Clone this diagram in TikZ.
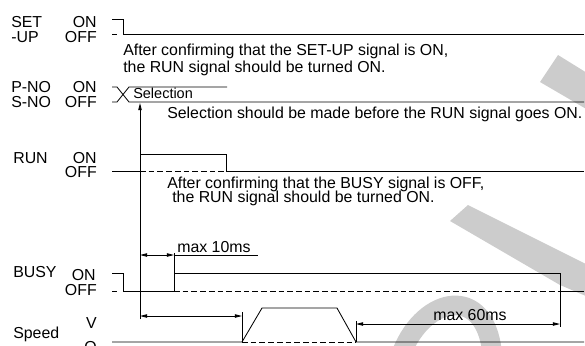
\documentclass[tikz,border=0pt]{standalone}
\usepackage{fontspec}
\setmainfont{Liberation Sans}
\usetikzlibrary{arrows.meta}
\begin{document}
\begin{tikzpicture}[x=0.025cm, y=-0.025cm, font=\fontsize{11.3}{13.6}\selectfont]
	\tikzset{>={Triangle[length=5pt,width=2.4pt]}}
	\tikzset{sig/.style={line width=0.6pt}, off/.style={sig, dash pattern=on 4pt off 2.2pt},
		lbl/.style={inner sep=0pt, anchor=base west}, lvl/.style={inner sep=0pt, anchor=base east},
		wmark/.style={fill=black!20, draw=none}}
	\useasboundingbox (0,0) rectangle (585,345);
	% watermark
	\begin{scope}
		\clip (0,0) rectangle (585,345);
		\fill[wmark] (558,55) -- (540,82) -- (600,117) -- (600,81) -- cycle;
		\fill[wmark] (468,205) -- (450,221) -- (560,285) -- (600,302) -- (600,271) -- cycle;
		\draw[black!20, line width=14pt] (402,352) .. controls (425,295) and (485,285) .. (492,352);
	\end{scope}
	% signal names and levels
	\node[lbl] (set) at (11,27) {SET};
	\node[lbl] (setup) at (11,42) {-UP};
	\node[lvl] (seton) at (97,27) {ON};
	\node[lvl] (setoff) at (97,42) {OFF};
	\node[lbl] (pno) at (11,92) {P-NO};
	\node[lbl] (sno) at (11,107) {S-NO};
	\node[lvl] (pnoon) at (97,92) {ON};
	\node[lvl] (pnooff) at (97,107) {OFF};
	\node[lbl] (run) at (13,163) {RUN};
	\node[lvl] (runon) at (97,163) {ON};
	\node[lvl] (runoff) at (97,177) {OFF};
	\node[lbl] (busy) at (13,277.5) {BUSY};
	\node[lvl] (busyon) at (96,280) {ON};
	\node[lvl] (busyoff) at (97,295) {OFF};
	\node[lbl] (speed) at (13,338) {Speed};
	\node[lvl] (spv) at (97,328) {V};
	\node[lvl] (spo) at (97,352) {O};
	% notes
	\node[lbl] (setnote) at (123,55) {After confirming that the SET-UP signal is ON,};
	\node[lbl] (setnoteb) at (123,72) {the RUN signal should be turned ON.};
	\node[lbl, font=\fontsize{10.3}{12}\selectfont] (sel) at (133,98) {Selection};
	\node[lbl] (selnote) at (167,118) {Selection should be made before the RUN signal goes ON.};
	\node[lbl] (busynote) at (167,188) {After confirming that the BUSY signal is OFF,};
	\node[lbl] (busynoteb) at (172,202) {the RUN signal should be turned ON.};
	\node[lbl] (max10) at (177,252.7) {max 10ms};
	\node[lbl] (max60) at (433,320.7) {max 60ms};
	% SET-UP
	\draw[sig] (112,34) -- (117,34);
	\draw[sig] (112,19) -- (123,19) -- (123,34) -- (584,34);
	% P-NO / S-NO
	\draw[sig] (112,87) -- (117,87) -- (129,102) -- (584,102);
	\draw[sig] (112,102) -- (117,102) -- (129,87) -- (227,87);
	% RUN
	\draw[sig] (112,171) -- (140,171);
	\draw[off] (140,171) -- (226,171);
	\draw[sig] (140,171) -- (140,154) -- (226,154) -- (226,171) -- (584,171);
	% BUSY
	\draw[sig] (112,291) -- (117,291);
	\draw[sig] (112,273) -- (123,273) -- (123,291) -- (174,291) -- (174,253);
	\draw[off] (174,291) -- (560,291);
	\draw[sig] (560,291) -- (584,291);
	\draw[sig] (174,273) -- (560,273) -- (560,327);
	% Speed
	\draw[sig] (112,342) -- (242,342) -- (262,308) -- (337,308) -- (356,342) -- (584,342);
	\draw[off] (242,342) -- (356,342);
	\draw[sig] (242,342) -- (242,312);
	\draw[sig] (356,342) -- (356,321);
	% timing marks
	\coordinate (runstart) at (140,319);
	\coordinate (selok) at (140,103);
	\coordinate (busyup) at (174,255);
	\coordinate (motstart) at (242,316);
	\coordinate (motstop) at (356,324);
	\coordinate (busydown) at (560,324);
	\draw[sig,->] (runstart) -- (selok);
	\draw[sig,<->] (140,255) -- (busyup);
	\draw[sig] (busyup) -- (258,255);
	\draw[sig,<->] (140,316) -- (motstart);
	\draw[sig,<->] (motstop) -- (busydown);
\end{tikzpicture}
\end{document}
